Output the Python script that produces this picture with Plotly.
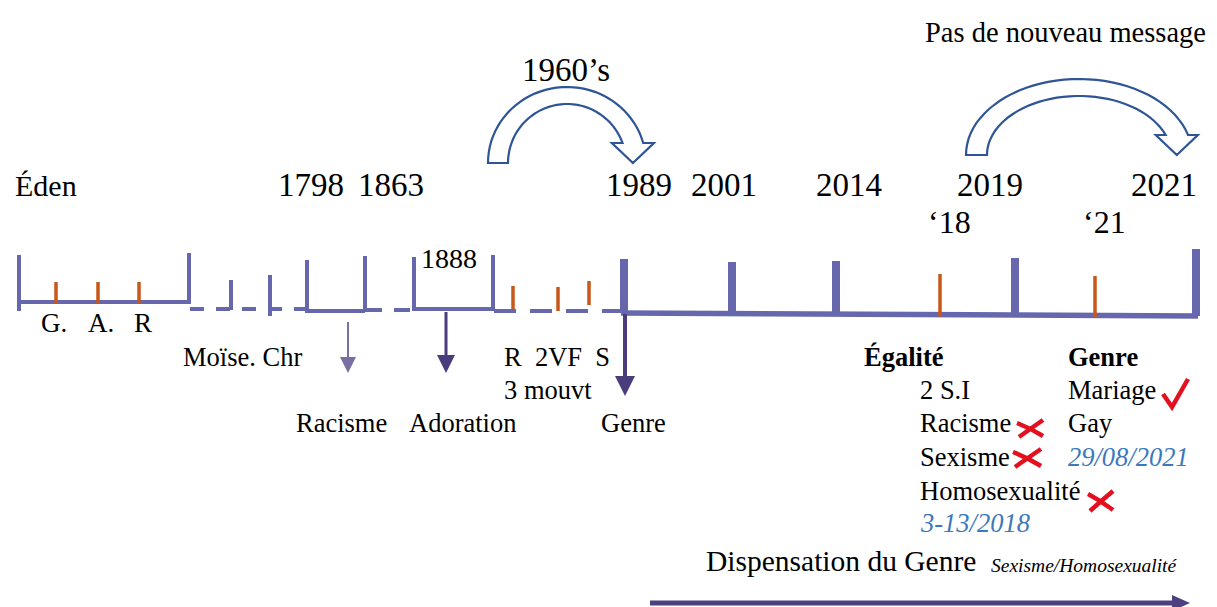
import math
import plotly.graph_objects as go

# ---------------- data (labels / values) ----------------
top_dates = ["Éden", "1798", "1863", "1989", "2001", "2014", "2019", "2021"]
sub_years = ["‘18", "‘21"]
bracket_year = "1888"
jump_labels = ["1960’s", "Pas de nouveau message"]
early_marks = ["G.", "A.", "R"]
lower_labels = ["Moïse. Chr", "Racisme", "Adoration", "R  2VF  S", "3 mouvt", "Genre"]
egalite_title = "Égalité"
egalite_items = ["2 S.I", "Racisme", "Sexisme", "Homosexualité"]
egalite_date = "3-13/2018"
genre_title = "Genre"
genre_items = ["Mariage", "Gay"]
genre_date = "29/08/2021"
egalite_status = ["", "x", "x", "x"]
genre_status = ["check", ""]
footer_main = "Dispensation du Genre"
footer_sub = "Sexisme/Homosexualité"

# ---------------- layout positions (pixels) ----------------
W, H = 1217, 607
FONT = "Liberation Serif"
PURPLE = "#6667AC"
DARK = "#4B3C7C"
ORANGE = "#C8571A"
RED = "#E3111F"
BLUE = "#3B78BD"
ARC = "#2F5597"

top_pos = [(14, 185), (277, 185), (357, 185), (605, 185), (690, 185), (815, 185), (956, 185), (1130, 185)]
sub_pos = [(927, 222), (1082, 222)]

shapes = []
ann = []


def text(x, y, s, size=26, color="black", bold=False, italic=False, anchor="left"):
    if bold:
        s = "<b>" + s + "</b>"
    if italic:
        s = "<i>" + s + "</i>"
    ann.append(dict(x=x, y=y, text=s, showarrow=False, xanchor=anchor, yanchor="middle",
                    font=dict(family=FONT, size=size, color=color), borderpad=0))


def line(x0, y0, x1, y1, color=PURPLE, width=3, dash=None):
    d = dict(type="line", x0=x0, y0=y0, x1=x1, y1=y1, line=dict(color=color, width=width))
    if dash:
        d["line"]["dash"] = dash
    shapes.append(d)


def path(p, color, width=0, fill=None):
    d = dict(type="path", path=p, line=dict(color=color, width=width))
    if fill:
        d["fillcolor"] = fill
    shapes.append(d)


def down_arrow(x, y0, y1, width, color, head_w=9, head_h=18):
    line(x, y0, x, y1 - head_h + 2, color=color, width=width)
    path(f"M{x-head_w},{y1-head_h} L{x+head_w},{y1-head_h} L{x},{y1} Z", color, 0, color)


# ---- timeline: early solid section ----
line(19, 302, 190, 302, width=4)
line(19, 255, 19, 311, width=4)
line(189, 253, 189, 304, width=4)
for xo in [56, 98, 139]:
    line(xo, 282, xo, 303, color=ORANGE, width=3.5)

# dashed 190 -> 307
line(190, 309, 307, 309, width=4, dash="14px,12px")
line(231, 280, 231, 310, width=4)
line(270, 275, 270, 316, width=4)
# bracket 307-365
line(307, 260, 307, 313, width=4)
line(307, 311, 365, 311, width=4)
line(365, 256, 365, 312, width=4)
line(366, 310, 413, 310, width=4, dash="16px,12px")
# bracket 413-493
line(414, 257, 414, 311, width=4)
line(414, 309, 493, 309, width=4)
line(493, 255, 493, 311, width=4)
line(494, 311, 622, 311, width=4, dash="22px,14px")
for xo, yt, yb in [(513, 286, 310), (558, 287, 311), (589, 281, 305)]:
    line(xo, yt, xo, yb, color=ORANGE, width=3.5)

# ---- main thick section ----
line(621, 313, 1198, 316, width=5.5)
for xo, yt in [(624, 259), (732, 262), (836, 261), (1015, 258), (1196, 249)]:
    yb = 313 + (xo - 621) * 3 / 577
    line(xo, yt, xo, yb, width=8)
for xo, yt in [(940, 274), (1095, 276)]:
    yb = 313 + (xo - 621) * 3 / 577
    line(xo, yt, xo, yb + 2, color=ORANGE, width=3.5)

# ---- down arrows ----
down_arrow(348, 322, 373, 2, "#7A6EA3", head_w=8, head_h=16)
down_arrow(446, 312, 373, 3, DARK, head_w=9, head_h=18)
down_arrow(625, 314, 396, 4, DARK, head_w=10, head_h=20)

# ---- bottom arrow ----
line(650, 603, 1176, 603, color="#4E3F80", width=5)
path("M1172,595 L1190,603 L1172,611 Z", "#4E3F80", 0, "#4E3F80")


# ---- curved hollow arrows ----
def curved_arrow(cx, cy, rxo, ryo, rxi, ryi, head_y, head_half):
    n = 40
    te_o = math.asin((cy - head_y) / ryo)
    te_i = math.asin((cy - head_y) / ryi)
    pts = []
    for k in range(n + 1):
        t = math.pi - (math.pi - te_o) * k / n
        pts.append((cx + rxo * math.cos(t), cy - ryo * math.sin(t)))
    xo_end = pts[-1][0]
    xi_end = cx + rxi * math.cos(te_i)
    xc = (xo_end + xi_end) / 2
    pts.append((xc + head_half, head_y))
    pts.append((xc, cy))
    pts.append((xc - head_half, head_y))
    for k in range(n + 1):
        t = te_i + (math.pi - te_i) * k / n
        pts.append((cx + rxi * math.cos(t), cy - ryi * math.sin(t)))
    p = "M" + " L".join(f"{x:.1f},{y:.1f}" for x, y in pts) + " Z"
    path(p, ARC, 2.2, "white")


curved_arrow(567, 163, 79, 76, 59, 59, 143, 21)
curved_arrow(1079, 155, 113, 76, 92, 59, 135, 21)

# ---- texts ----
for s, (x, y) in zip(top_dates[:1], top_pos[:1]):
    text(x, y, s, size=30)
for s, (x, y) in zip(top_dates[1:], top_pos[1:]):
    text(x, y, s, size=33)
for s, (x, y) in zip(sub_years, sub_pos):
    text(x, y, s, size=32)
text(420, 258, bracket_year, size=28)
text(566, 70, jump_labels[0], size=33, anchor="center")
text(924, 32, jump_labels[1], size=28.5)
for s, xg in zip(early_marks, [40, 87, 133]):
    text(xg, 323, s, size=27)
text(182, 357, lower_labels[0], size=26.5)
text(295, 423, lower_labels[1], size=26.5)
text(408, 423, lower_labels[2], size=26.5)
text(503, 357, lower_labels[3], size=26.5)
text(503, 390, lower_labels[4], size=26.5)
text(600, 423, lower_labels[5], size=26.5)

text(863, 357, egalite_title, size=26.5, bold=True)
for s, y in zip(egalite_items, [390, 423, 457, 491]):
    text(919, y, s, size=26.5)
text(919, 523, egalite_date, size=26.5, color=BLUE, italic=True)
text(1067, 357, genre_title, size=26.5, bold=True)
for s, y in zip(genre_items, [390, 423]):
    text(1067, y, s, size=26.5)
text(1067, 457, genre_date, size=26.5, color=BLUE, italic=True)

# status marks
x_marks = [None, (1017, 1043, 419, 437), (1013, 1041, 448, 467), (1088, 1113, 490, 511)]
for st, box in zip(egalite_status, x_marks):
    if st == "x" and box:
        x0, x1, y0, y1 = box
        path(f"M{x0},{y0+4} Q{(x0+x1)/2},{(y0+y1)/2} {x1},{y1-1}", RED, 4.5)
        path(f"M{x0+2},{y1} Q{(x0+x1)/2},{(y0+y1)/2+1} {x1},{y0+1}", RED, 4.5)
for st in genre_status:
    if st == "check":
        path("M1163,394 L1172,407 L1188,379", RED, 4.5)

text(705, 561, footer_main, size=29.5)
text(990, 565, footer_sub, size=19.5, italic=True)

fig = go.Figure()
fig.update_layout(
    width=W, height=H,
    margin=dict(l=0, r=0, t=0, b=0),
    paper_bgcolor="white", plot_bgcolor="white",
    xaxis=dict(range=[0, W], visible=False, fixedrange=True),
    yaxis=dict(range=[H, 0], visible=False, fixedrange=True),
    shapes=shapes, annotations=ann, showlegend=False,
)
fig.write_html("out.html", config={"displayModeBar": False},
               post_script="document.body.style.margin='0';document.body.style.overflow='hidden';")
